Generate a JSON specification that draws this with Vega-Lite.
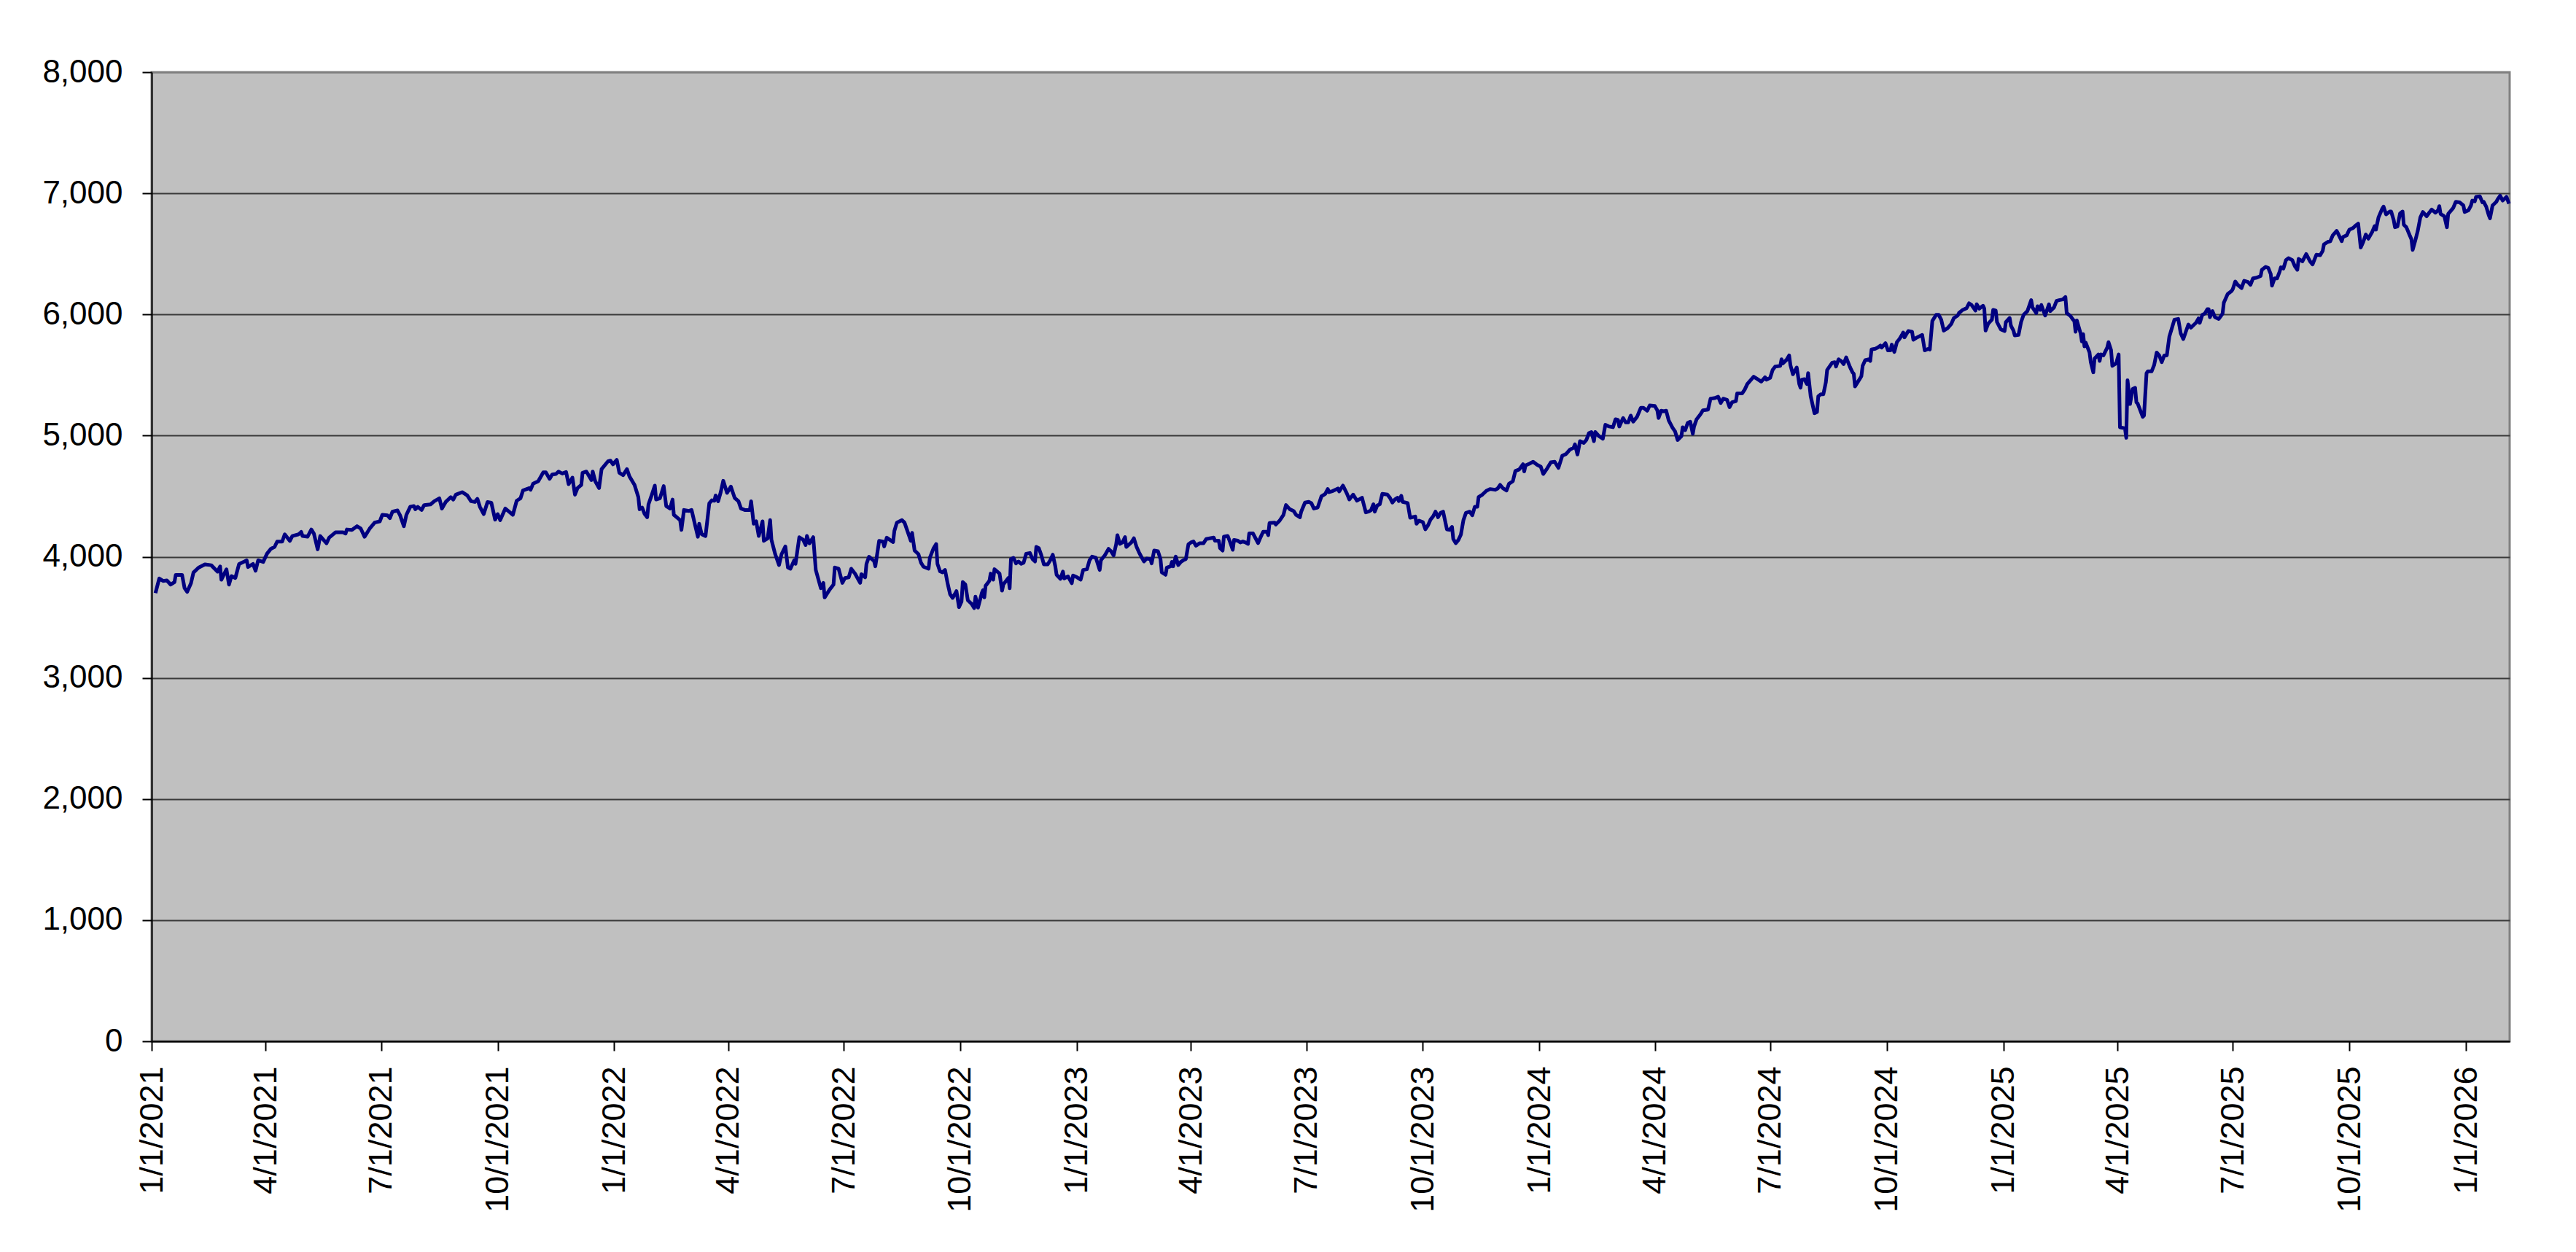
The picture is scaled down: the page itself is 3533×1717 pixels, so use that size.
{
  "$schema": "https://vega.github.io/schema/vega-lite/v6.json",
  "autosize": {"type": "none"},
  "width": 3234,
  "height": 1329,
  "padding": {"left": 208, "top": 99, "right": 91, "bottom": 289},
  "background": "white",
  "data": {
    "values": [
      {"date": "2021-01-04", "value": 3700}, {"date": "2021-01-07", "value": 3820}, {"date": "2021-01-10", "value": 3800},
      {"date": "2021-01-13", "value": 3804}, {"date": "2021-01-16", "value": 3770}, {"date": "2021-01-19", "value": 3790},
      {"date": "2021-01-20", "value": 3850}, {"date": "2021-01-25", "value": 3850}, {"date": "2021-01-27", "value": 3740},
      {"date": "2021-01-29", "value": 3710}, {"date": "2021-02-01", "value": 3780}, {"date": "2021-02-03", "value": 3870},
      {"date": "2021-02-07", "value": 3910}, {"date": "2021-02-12", "value": 3937}, {"date": "2021-02-17", "value": 3930},
      {"date": "2021-02-22", "value": 3877}, {"date": "2021-02-24", "value": 3920}, {"date": "2021-02-25", "value": 3810},
      {"date": "2021-03-01", "value": 3896}, {"date": "2021-03-03", "value": 3770}, {"date": "2021-03-05", "value": 3840},
      {"date": "2021-03-08", "value": 3824}, {"date": "2021-03-11", "value": 3940}, {"date": "2021-03-17", "value": 3970},
      {"date": "2021-03-18", "value": 3915}, {"date": "2021-03-22", "value": 3940}, {"date": "2021-03-24", "value": 3884},
      {"date": "2021-03-26", "value": 3970}, {"date": "2021-03-30", "value": 3957}, {"date": "2021-04-02", "value": 4025},
      {"date": "2021-04-05", "value": 4065}, {"date": "2021-04-08", "value": 4081}, {"date": "2021-04-10", "value": 4125},
      {"date": "2021-04-14", "value": 4125}, {"date": "2021-04-16", "value": 4185}, {"date": "2021-04-20", "value": 4131},
      {"date": "2021-04-22", "value": 4171}, {"date": "2021-04-27", "value": 4185}, {"date": "2021-04-29", "value": 4205},
      {"date": "2021-04-30", "value": 4171}, {"date": "2021-05-04", "value": 4165}, {"date": "2021-05-07", "value": 4225},
      {"date": "2021-05-09", "value": 4191}, {"date": "2021-05-12", "value": 4061}, {"date": "2021-05-14", "value": 4171},
      {"date": "2021-05-19", "value": 4111}, {"date": "2021-05-21", "value": 4157}, {"date": "2021-05-26", "value": 4201},
      {"date": "2021-06-01", "value": 4201}, {"date": "2021-06-03", "value": 4191}, {"date": "2021-06-04", "value": 4225},
      {"date": "2021-06-08", "value": 4221}, {"date": "2021-06-12", "value": 4252}, {"date": "2021-06-15", "value": 4232},
      {"date": "2021-06-18", "value": 4165}, {"date": "2021-06-22", "value": 4232}, {"date": "2021-06-26", "value": 4282},
      {"date": "2021-06-30", "value": 4292}, {"date": "2021-07-02", "value": 4346}, {"date": "2021-07-06", "value": 4342},
      {"date": "2021-07-08", "value": 4318}, {"date": "2021-07-10", "value": 4372}, {"date": "2021-07-14", "value": 4382},
      {"date": "2021-07-16", "value": 4342}, {"date": "2021-07-19", "value": 4252}, {"date": "2021-07-21", "value": 4346},
      {"date": "2021-07-24", "value": 4412}, {"date": "2021-07-27", "value": 4418}, {"date": "2021-07-28", "value": 4392},
      {"date": "2021-07-30", "value": 4412}, {"date": "2021-08-02", "value": 4386}, {"date": "2021-08-04", "value": 4426},
      {"date": "2021-08-09", "value": 4432}, {"date": "2021-08-12", "value": 4458}, {"date": "2021-08-16", "value": 4482},
      {"date": "2021-08-18", "value": 4398}, {"date": "2021-08-21", "value": 4452}, {"date": "2021-08-25", "value": 4492},
      {"date": "2021-08-27", "value": 4472}, {"date": "2021-08-29", "value": 4512}, {"date": "2021-09-03", "value": 4533},
      {"date": "2021-09-07", "value": 4506}, {"date": "2021-09-10", "value": 4458}, {"date": "2021-09-13", "value": 4452},
      {"date": "2021-09-15", "value": 4478}, {"date": "2021-09-17", "value": 4412}, {"date": "2021-09-20", "value": 4352},
      {"date": "2021-09-23", "value": 4452}, {"date": "2021-09-26", "value": 4446}, {"date": "2021-09-29", "value": 4306},
      {"date": "2021-10-01", "value": 4352}, {"date": "2021-10-03", "value": 4302}, {"date": "2021-10-07", "value": 4398},
      {"date": "2021-10-13", "value": 4346}, {"date": "2021-10-16", "value": 4462}, {"date": "2021-10-19", "value": 4482},
      {"date": "2021-10-21", "value": 4547}, {"date": "2021-10-26", "value": 4567}, {"date": "2021-10-27", "value": 4553},
      {"date": "2021-10-29", "value": 4603}, {"date": "2021-11-02", "value": 4623}, {"date": "2021-11-06", "value": 4697},
      {"date": "2021-11-08", "value": 4697}, {"date": "2021-11-11", "value": 4643}, {"date": "2021-11-13", "value": 4679},
      {"date": "2021-11-16", "value": 4683}, {"date": "2021-11-18", "value": 4703}, {"date": "2021-11-21", "value": 4687},
      {"date": "2021-11-24", "value": 4699}, {"date": "2021-11-26", "value": 4599}, {"date": "2021-11-29", "value": 4653},
      {"date": "2021-12-01", "value": 4512}, {"date": "2021-12-03", "value": 4567}, {"date": "2021-12-06", "value": 4593},
      {"date": "2021-12-07", "value": 4693}, {"date": "2021-12-10", "value": 4703}, {"date": "2021-12-14", "value": 4633},
      {"date": "2021-12-15", "value": 4703}, {"date": "2021-12-17", "value": 4623}, {"date": "2021-12-20", "value": 4567},
      {"date": "2021-12-22", "value": 4723}, {"date": "2021-12-27", "value": 4787}, {"date": "2021-12-29", "value": 4793},
      {"date": "2021-12-31", "value": 4763}, {"date": "2022-01-03", "value": 4799}, {"date": "2022-01-05", "value": 4693},
      {"date": "2022-01-08", "value": 4673}, {"date": "2022-01-11", "value": 4723}, {"date": "2022-01-13", "value": 4663},
      {"date": "2022-01-17", "value": 4593}, {"date": "2022-01-20", "value": 4492}, {"date": "2022-01-21", "value": 4392},
      {"date": "2022-01-23", "value": 4406}, {"date": "2022-01-25", "value": 4352}, {"date": "2022-01-27", "value": 4326},
      {"date": "2022-01-28", "value": 4432}, {"date": "2022-01-31", "value": 4523}, {"date": "2022-02-02", "value": 4587},
      {"date": "2022-02-03", "value": 4472}, {"date": "2022-02-06", "value": 4482}, {"date": "2022-02-09", "value": 4583},
      {"date": "2022-02-11", "value": 4418}, {"date": "2022-02-14", "value": 4398}, {"date": "2022-02-16", "value": 4472},
      {"date": "2022-02-17", "value": 4346}, {"date": "2022-02-22", "value": 4302}, {"date": "2022-02-23", "value": 4222},
      {"date": "2022-02-25", "value": 4386}, {"date": "2022-03-01", "value": 4378}, {"date": "2022-03-03", "value": 4386},
      {"date": "2022-03-06", "value": 4252}, {"date": "2022-03-08", "value": 4165}, {"date": "2022-03-09", "value": 4272},
      {"date": "2022-03-11", "value": 4185}, {"date": "2022-03-14", "value": 4171}, {"date": "2022-03-17", "value": 4442},
      {"date": "2022-03-19", "value": 4466}, {"date": "2022-03-21", "value": 4462}, {"date": "2022-03-22", "value": 4506},
      {"date": "2022-03-24", "value": 4458}, {"date": "2022-03-26", "value": 4533}, {"date": "2022-03-28", "value": 4627},
      {"date": "2022-03-31", "value": 4527}, {"date": "2022-04-03", "value": 4579}, {"date": "2022-04-06", "value": 4486},
      {"date": "2022-04-09", "value": 4458}, {"date": "2022-04-11", "value": 4398}, {"date": "2022-04-14", "value": 4386},
      {"date": "2022-04-18", "value": 4386}, {"date": "2022-04-19", "value": 4458}, {"date": "2022-04-21", "value": 4272},
      {"date": "2022-04-23", "value": 4292}, {"date": "2022-04-25", "value": 4171}, {"date": "2022-04-28", "value": 4292},
      {"date": "2022-04-29", "value": 4131}, {"date": "2022-05-02", "value": 4151}, {"date": "2022-05-04", "value": 4302},
      {"date": "2022-05-05", "value": 4141}, {"date": "2022-05-08", "value": 4021}, {"date": "2022-05-11", "value": 3931},
      {"date": "2022-05-13", "value": 4021}, {"date": "2022-05-16", "value": 4085}, {"date": "2022-05-18", "value": 3911},
      {"date": "2022-05-20", "value": 3901}, {"date": "2022-05-23", "value": 3971}, {"date": "2022-05-24", "value": 3941},
      {"date": "2022-05-27", "value": 4161}, {"date": "2022-05-30", "value": 4141}, {"date": "2022-06-01", "value": 4097},
      {"date": "2022-06-02", "value": 4171}, {"date": "2022-06-04", "value": 4111}, {"date": "2022-06-07", "value": 4161},
      {"date": "2022-06-09", "value": 3891}, {"date": "2022-06-13", "value": 3740}, {"date": "2022-06-15", "value": 3784},
      {"date": "2022-06-16", "value": 3664}, {"date": "2022-06-20", "value": 3730}, {"date": "2022-06-23", "value": 3770},
      {"date": "2022-06-24", "value": 3911}, {"date": "2022-06-27", "value": 3901}, {"date": "2022-06-30", "value": 3784},
      {"date": "2022-07-02", "value": 3824}, {"date": "2022-07-05", "value": 3830}, {"date": "2022-07-07", "value": 3901},
      {"date": "2022-07-10", "value": 3860}, {"date": "2022-07-14", "value": 3784}, {"date": "2022-07-15", "value": 3856},
      {"date": "2022-07-18", "value": 3830}, {"date": "2022-07-19", "value": 3941}, {"date": "2022-07-21", "value": 4000},
      {"date": "2022-07-25", "value": 3965}, {"date": "2022-07-26", "value": 3921}, {"date": "2022-07-29", "value": 4131},
      {"date": "2022-08-01", "value": 4125}, {"date": "2022-08-02", "value": 4085}, {"date": "2022-08-04", "value": 4157},
      {"date": "2022-08-09", "value": 4121}, {"date": "2022-08-10", "value": 4212}, {"date": "2022-08-12", "value": 4282},
      {"date": "2022-08-16", "value": 4302}, {"date": "2022-08-18", "value": 4282}, {"date": "2022-08-20", "value": 4222},
      {"date": "2022-08-23", "value": 4131}, {"date": "2022-08-24", "value": 4197}, {"date": "2022-08-26", "value": 4051},
      {"date": "2022-08-29", "value": 4021}, {"date": "2022-08-31", "value": 3951}, {"date": "2022-09-02", "value": 3917},
      {"date": "2022-09-06", "value": 3901}, {"date": "2022-09-07", "value": 3991}, {"date": "2022-09-10", "value": 4071},
      {"date": "2022-09-12", "value": 4105}, {"date": "2022-09-13", "value": 3941}, {"date": "2022-09-15", "value": 3880},
      {"date": "2022-09-17", "value": 3871}, {"date": "2022-09-19", "value": 3891}, {"date": "2022-09-21", "value": 3781},
      {"date": "2022-09-23", "value": 3690}, {"date": "2022-09-25", "value": 3660}, {"date": "2022-09-28", "value": 3716},
      {"date": "2022-09-30", "value": 3584}, {"date": "2022-10-02", "value": 3630}, {"date": "2022-10-03", "value": 3791},
      {"date": "2022-10-05", "value": 3771}, {"date": "2022-10-07", "value": 3640}, {"date": "2022-10-10", "value": 3610},
      {"date": "2022-10-12", "value": 3576}, {"date": "2022-10-13", "value": 3670}, {"date": "2022-10-15", "value": 3580},
      {"date": "2022-10-18", "value": 3700}, {"date": "2022-10-19", "value": 3724}, {"date": "2022-10-20", "value": 3664},
      {"date": "2022-10-21", "value": 3760}, {"date": "2022-10-24", "value": 3801}, {"date": "2022-10-25", "value": 3861},
      {"date": "2022-10-27", "value": 3811}, {"date": "2022-10-28", "value": 3897}, {"date": "2022-11-01", "value": 3861},
      {"date": "2022-11-03", "value": 3720}, {"date": "2022-11-04", "value": 3771}, {"date": "2022-11-08", "value": 3825},
      {"date": "2022-11-09", "value": 3740}, {"date": "2022-11-10", "value": 3981}, {"date": "2022-11-12", "value": 3991},
      {"date": "2022-11-14", "value": 3945}, {"date": "2022-11-16", "value": 3961}, {"date": "2022-11-18", "value": 3941},
      {"date": "2022-11-20", "value": 3951}, {"date": "2022-11-22", "value": 4025}, {"date": "2022-11-25", "value": 4031},
      {"date": "2022-11-27", "value": 3981}, {"date": "2022-11-29", "value": 3961}, {"date": "2022-11-30", "value": 4081},
      {"date": "2022-12-02", "value": 4071}, {"date": "2022-12-04", "value": 4011}, {"date": "2022-12-06", "value": 3937},
      {"date": "2022-12-09", "value": 3937}, {"date": "2022-12-11", "value": 3971}, {"date": "2022-12-13", "value": 4017},
      {"date": "2022-12-15", "value": 3921}, {"date": "2022-12-16", "value": 3851}, {"date": "2022-12-19", "value": 3817},
      {"date": "2022-12-21", "value": 3877}, {"date": "2022-12-22", "value": 3821}, {"date": "2022-12-25", "value": 3837},
      {"date": "2022-12-28", "value": 3781}, {"date": "2022-12-29", "value": 3845}, {"date": "2023-01-01", "value": 3831},
      {"date": "2023-01-04", "value": 3811}, {"date": "2023-01-06", "value": 3891}, {"date": "2023-01-09", "value": 3897},
      {"date": "2023-01-11", "value": 3971}, {"date": "2023-01-13", "value": 4001}, {"date": "2023-01-16", "value": 3991},
      {"date": "2023-01-19", "value": 3891}, {"date": "2023-01-20", "value": 3971}, {"date": "2023-01-23", "value": 4011},
      {"date": "2023-01-26", "value": 4065}, {"date": "2023-01-28", "value": 4045}, {"date": "2023-01-30", "value": 4011},
      {"date": "2023-02-01", "value": 4102}, {"date": "2023-02-02", "value": 4178}, {"date": "2023-02-04", "value": 4106},
      {"date": "2023-02-06", "value": 4118}, {"date": "2023-02-08", "value": 4162}, {"date": "2023-02-09", "value": 4081},
      {"date": "2023-02-13", "value": 4118}, {"date": "2023-02-15", "value": 4152}, {"date": "2023-02-17", "value": 4085},
      {"date": "2023-02-19", "value": 4037}, {"date": "2023-02-21", "value": 3997}, {"date": "2023-02-23", "value": 3961},
      {"date": "2023-02-25", "value": 3985}, {"date": "2023-02-28", "value": 3981}, {"date": "2023-03-01", "value": 3945},
      {"date": "2023-03-03", "value": 4051}, {"date": "2023-03-06", "value": 4045}, {"date": "2023-03-08", "value": 3981},
      {"date": "2023-03-09", "value": 3871}, {"date": "2023-03-12", "value": 3851}, {"date": "2023-03-13", "value": 3911},
      {"date": "2023-03-16", "value": 3921}, {"date": "2023-03-17", "value": 3957}, {"date": "2023-03-18", "value": 3921},
      {"date": "2023-03-20", "value": 4001}, {"date": "2023-03-22", "value": 3931}, {"date": "2023-03-24", "value": 3957},
      {"date": "2023-03-26", "value": 3971}, {"date": "2023-03-28", "value": 3981}, {"date": "2023-03-30", "value": 4102},
      {"date": "2023-04-01", "value": 4118}, {"date": "2023-04-03", "value": 4126}, {"date": "2023-04-05", "value": 4091},
      {"date": "2023-04-08", "value": 4112}, {"date": "2023-04-11", "value": 4112}, {"date": "2023-04-13", "value": 4146},
      {"date": "2023-04-16", "value": 4152}, {"date": "2023-04-19", "value": 4158}, {"date": "2023-04-20", "value": 4132},
      {"date": "2023-04-23", "value": 4132}, {"date": "2023-04-24", "value": 4071}, {"date": "2023-04-26", "value": 4051},
      {"date": "2023-04-27", "value": 4166}, {"date": "2023-04-30", "value": 4172}, {"date": "2023-05-02", "value": 4118},
      {"date": "2023-05-04", "value": 4057}, {"date": "2023-05-05", "value": 4138}, {"date": "2023-05-08", "value": 4132},
      {"date": "2023-05-10", "value": 4118}, {"date": "2023-05-12", "value": 4126}, {"date": "2023-05-14", "value": 4118},
      {"date": "2023-05-16", "value": 4106}, {"date": "2023-05-17", "value": 4192}, {"date": "2023-05-20", "value": 4192},
      {"date": "2023-05-22", "value": 4152}, {"date": "2023-05-24", "value": 4112}, {"date": "2023-05-26", "value": 4162},
      {"date": "2023-05-28", "value": 4206}, {"date": "2023-05-31", "value": 4206}, {"date": "2023-06-01", "value": 4178},
      {"date": "2023-06-02", "value": 4278}, {"date": "2023-06-06", "value": 4282}, {"date": "2023-06-07", "value": 4266},
      {"date": "2023-06-10", "value": 4298}, {"date": "2023-06-13", "value": 4346}, {"date": "2023-06-15", "value": 4427},
      {"date": "2023-06-18", "value": 4392}, {"date": "2023-06-21", "value": 4378}, {"date": "2023-06-23", "value": 4346},
      {"date": "2023-06-26", "value": 4326}, {"date": "2023-06-27", "value": 4372}, {"date": "2023-06-30", "value": 4447},
      {"date": "2023-07-03", "value": 4453}, {"date": "2023-07-05", "value": 4443}, {"date": "2023-07-07", "value": 4398},
      {"date": "2023-07-10", "value": 4406}, {"date": "2023-07-13", "value": 4499}, {"date": "2023-07-16", "value": 4519},
      {"date": "2023-07-18", "value": 4559}, {"date": "2023-07-19", "value": 4533}, {"date": "2023-07-22", "value": 4543},
      {"date": "2023-07-26", "value": 4563}, {"date": "2023-07-27", "value": 4539}, {"date": "2023-07-30", "value": 4587},
      {"date": "2023-08-02", "value": 4523}, {"date": "2023-08-04", "value": 4473}, {"date": "2023-08-07", "value": 4513},
      {"date": "2023-08-10", "value": 4463}, {"date": "2023-08-14", "value": 4487}, {"date": "2023-08-17", "value": 4366},
      {"date": "2023-08-19", "value": 4372}, {"date": "2023-08-21", "value": 4383}, {"date": "2023-08-23", "value": 4433},
      {"date": "2023-08-24", "value": 4372}, {"date": "2023-08-26", "value": 4423}, {"date": "2023-08-28", "value": 4433},
      {"date": "2023-08-30", "value": 4519}, {"date": "2023-09-03", "value": 4513}, {"date": "2023-09-05", "value": 4487},
      {"date": "2023-09-07", "value": 4447}, {"date": "2023-09-09", "value": 4473}, {"date": "2023-09-11", "value": 4487},
      {"date": "2023-09-12", "value": 4459}, {"date": "2023-09-14", "value": 4503}, {"date": "2023-09-15", "value": 4453},
      {"date": "2023-09-19", "value": 4443}, {"date": "2023-09-21", "value": 4322}, {"date": "2023-09-25", "value": 4332},
      {"date": "2023-09-26", "value": 4272}, {"date": "2023-09-28", "value": 4298}, {"date": "2023-10-01", "value": 4286},
      {"date": "2023-10-03", "value": 4226}, {"date": "2023-10-05", "value": 4258}, {"date": "2023-10-07", "value": 4306},
      {"date": "2023-10-09", "value": 4332}, {"date": "2023-10-11", "value": 4372}, {"date": "2023-10-13", "value": 4326},
      {"date": "2023-10-15", "value": 4362}, {"date": "2023-10-17", "value": 4372}, {"date": "2023-10-20", "value": 4226},
      {"date": "2023-10-22", "value": 4222}, {"date": "2023-10-24", "value": 4246}, {"date": "2023-10-25", "value": 4146},
      {"date": "2023-10-27", "value": 4112}, {"date": "2023-10-29", "value": 4138}, {"date": "2023-10-31", "value": 4182},
      {"date": "2023-11-02", "value": 4302}, {"date": "2023-11-04", "value": 4362}, {"date": "2023-11-07", "value": 4372},
      {"date": "2023-11-09", "value": 4342}, {"date": "2023-11-11", "value": 4413}, {"date": "2023-11-13", "value": 4413},
      {"date": "2023-11-14", "value": 4493}, {"date": "2023-11-17", "value": 4513}, {"date": "2023-11-20", "value": 4543},
      {"date": "2023-11-23", "value": 4559}, {"date": "2023-11-27", "value": 4553}, {"date": "2023-11-29", "value": 4563},
      {"date": "2023-12-01", "value": 4593}, {"date": "2023-12-03", "value": 4567}, {"date": "2023-12-06", "value": 4547},
      {"date": "2023-12-08", "value": 4603}, {"date": "2023-12-11", "value": 4623}, {"date": "2023-12-13", "value": 4708},
      {"date": "2023-12-16", "value": 4720}, {"date": "2023-12-19", "value": 4764}, {"date": "2023-12-20", "value": 4704},
      {"date": "2023-12-21", "value": 4754}, {"date": "2023-12-24", "value": 4768}, {"date": "2023-12-27", "value": 4784},
      {"date": "2023-12-30", "value": 4760}, {"date": "2024-01-02", "value": 4744}, {"date": "2024-01-04", "value": 4683},
      {"date": "2024-01-07", "value": 4728}, {"date": "2024-01-10", "value": 4780}, {"date": "2024-01-13", "value": 4784},
      {"date": "2024-01-16", "value": 4734}, {"date": "2024-01-19", "value": 4834}, {"date": "2024-01-22", "value": 4848},
      {"date": "2024-01-25", "value": 4884}, {"date": "2024-01-28", "value": 4900}, {"date": "2024-01-29", "value": 4928},
      {"date": "2024-01-31", "value": 4844}, {"date": "2024-02-02", "value": 4954}, {"date": "2024-02-05", "value": 4940},
      {"date": "2024-02-07", "value": 4964}, {"date": "2024-02-09", "value": 5020}, {"date": "2024-02-11", "value": 5029},
      {"date": "2024-02-13", "value": 4954}, {"date": "2024-02-14", "value": 5029}, {"date": "2024-02-17", "value": 4995},
      {"date": "2024-02-20", "value": 4974}, {"date": "2024-02-22", "value": 5089}, {"date": "2024-02-25", "value": 5075},
      {"date": "2024-02-28", "value": 5069}, {"date": "2024-03-01", "value": 5135}, {"date": "2024-03-03", "value": 5129},
      {"date": "2024-03-04", "value": 5075}, {"date": "2024-03-07", "value": 5145}, {"date": "2024-03-09", "value": 5109},
      {"date": "2024-03-11", "value": 5109}, {"date": "2024-03-13", "value": 5165}, {"date": "2024-03-15", "value": 5115},
      {"date": "2024-03-18", "value": 5155}, {"date": "2024-03-21", "value": 5229}, {"date": "2024-03-23", "value": 5229},
      {"date": "2024-03-26", "value": 5205}, {"date": "2024-03-28", "value": 5249}, {"date": "2024-04-01", "value": 5245},
      {"date": "2024-04-03", "value": 5209}, {"date": "2024-04-04", "value": 5145}, {"date": "2024-04-06", "value": 5205},
      {"date": "2024-04-08", "value": 5201}, {"date": "2024-04-10", "value": 5205}, {"date": "2024-04-12", "value": 5125},
      {"date": "2024-04-15", "value": 5065}, {"date": "2024-04-17", "value": 5035}, {"date": "2024-04-19", "value": 4964},
      {"date": "2024-04-22", "value": 4995}, {"date": "2024-04-23", "value": 5069}, {"date": "2024-04-25", "value": 5045},
      {"date": "2024-04-27", "value": 5105}, {"date": "2024-04-29", "value": 5115}, {"date": "2024-05-01", "value": 5015},
      {"date": "2024-05-02", "value": 5075}, {"date": "2024-05-04", "value": 5135}, {"date": "2024-05-07", "value": 5175},
      {"date": "2024-05-09", "value": 5209}, {"date": "2024-05-13", "value": 5215}, {"date": "2024-05-15", "value": 5305},
      {"date": "2024-05-18", "value": 5309}, {"date": "2024-05-21", "value": 5321}, {"date": "2024-05-23", "value": 5269},
      {"date": "2024-05-25", "value": 5305}, {"date": "2024-05-28", "value": 5295}, {"date": "2024-05-30", "value": 5235},
      {"date": "2024-06-01", "value": 5275}, {"date": "2024-06-04", "value": 5285}, {"date": "2024-06-05", "value": 5349},
      {"date": "2024-06-09", "value": 5349}, {"date": "2024-06-11", "value": 5381}, {"date": "2024-06-13", "value": 5426},
      {"date": "2024-06-15", "value": 5450}, {"date": "2024-06-18", "value": 5486}, {"date": "2024-06-21", "value": 5466},
      {"date": "2024-06-24", "value": 5446}, {"date": "2024-06-27", "value": 5482}, {"date": "2024-06-28", "value": 5462},
      {"date": "2024-07-01", "value": 5476}, {"date": "2024-07-03", "value": 5542}, {"date": "2024-07-05", "value": 5570},
      {"date": "2024-07-09", "value": 5576}, {"date": "2024-07-10", "value": 5630}, {"date": "2024-07-11", "value": 5596},
      {"date": "2024-07-14", "value": 5626}, {"date": "2024-07-16", "value": 5662}, {"date": "2024-07-17", "value": 5582},
      {"date": "2024-07-19", "value": 5506}, {"date": "2024-07-22", "value": 5562}, {"date": "2024-07-24", "value": 5426},
      {"date": "2024-07-25", "value": 5396}, {"date": "2024-07-26", "value": 5462}, {"date": "2024-07-28", "value": 5466},
      {"date": "2024-07-30", "value": 5426}, {"date": "2024-07-31", "value": 5516}, {"date": "2024-08-02", "value": 5325},
      {"date": "2024-08-05", "value": 5185}, {"date": "2024-08-07", "value": 5195}, {"date": "2024-08-08", "value": 5325},
      {"date": "2024-08-10", "value": 5341}, {"date": "2024-08-12", "value": 5341}, {"date": "2024-08-14", "value": 5442},
      {"date": "2024-08-15", "value": 5542}, {"date": "2024-08-19", "value": 5602}, {"date": "2024-08-21", "value": 5606},
      {"date": "2024-08-22", "value": 5570}, {"date": "2024-08-24", "value": 5630}, {"date": "2024-08-26", "value": 5616},
      {"date": "2024-08-28", "value": 5590}, {"date": "2024-08-30", "value": 5646}, {"date": "2024-09-02", "value": 5566},
      {"date": "2024-09-04", "value": 5522}, {"date": "2024-09-05", "value": 5510}, {"date": "2024-09-06", "value": 5406},
      {"date": "2024-09-09", "value": 5456}, {"date": "2024-09-11", "value": 5490}, {"date": "2024-09-12", "value": 5576},
      {"date": "2024-09-14", "value": 5622}, {"date": "2024-09-17", "value": 5630}, {"date": "2024-09-18", "value": 5616},
      {"date": "2024-09-19", "value": 5711}, {"date": "2024-09-22", "value": 5717}, {"date": "2024-09-24", "value": 5727},
      {"date": "2024-09-26", "value": 5743}, {"date": "2024-09-27", "value": 5727}, {"date": "2024-09-30", "value": 5763},
      {"date": "2024-10-02", "value": 5703}, {"date": "2024-10-04", "value": 5703}, {"date": "2024-10-05", "value": 5751},
      {"date": "2024-10-07", "value": 5690}, {"date": "2024-10-09", "value": 5771}, {"date": "2024-10-11", "value": 5797},
      {"date": "2024-10-13", "value": 5831}, {"date": "2024-10-14", "value": 5851}, {"date": "2024-10-15", "value": 5811},
      {"date": "2024-10-18", "value": 5863}, {"date": "2024-10-21", "value": 5857}, {"date": "2024-10-22", "value": 5791},
      {"date": "2024-10-25", "value": 5811}, {"date": "2024-10-29", "value": 5831}, {"date": "2024-10-31", "value": 5703},
      {"date": "2024-11-03", "value": 5717}, {"date": "2024-11-04", "value": 5711}, {"date": "2024-11-06", "value": 5947},
      {"date": "2024-11-09", "value": 5997}, {"date": "2024-11-11", "value": 5997}, {"date": "2024-11-13", "value": 5957},
      {"date": "2024-11-15", "value": 5867}, {"date": "2024-11-18", "value": 5887}, {"date": "2024-11-21", "value": 5923},
      {"date": "2024-11-23", "value": 5971}, {"date": "2024-11-26", "value": 5991}, {"date": "2024-11-27", "value": 6012},
      {"date": "2024-11-30", "value": 6038}, {"date": "2024-12-03", "value": 6052}, {"date": "2024-12-05", "value": 6092},
      {"date": "2024-12-07", "value": 6078}, {"date": "2024-12-10", "value": 6032}, {"date": "2024-12-11", "value": 6084},
      {"date": "2024-12-13", "value": 6048}, {"date": "2024-12-16", "value": 6072}, {"date": "2024-12-17", "value": 6048},
      {"date": "2024-12-18", "value": 5867}, {"date": "2024-12-20", "value": 5923}, {"date": "2024-12-23", "value": 5957},
      {"date": "2024-12-24", "value": 6038}, {"date": "2024-12-26", "value": 6032}, {"date": "2024-12-27", "value": 5937},
      {"date": "2024-12-30", "value": 5877}, {"date": "2025-01-02", "value": 5863}, {"date": "2025-01-03", "value": 5937},
      {"date": "2025-01-06", "value": 5971}, {"date": "2025-01-07", "value": 5907}, {"date": "2025-01-09", "value": 5867},
      {"date": "2025-01-10", "value": 5827}, {"date": "2025-01-13", "value": 5831}, {"date": "2025-01-15", "value": 5937},
      {"date": "2025-01-17", "value": 5997}, {"date": "2025-01-20", "value": 6028}, {"date": "2025-01-23", "value": 6118},
      {"date": "2025-01-24", "value": 6058}, {"date": "2025-01-27", "value": 6012}, {"date": "2025-01-28", "value": 6068},
      {"date": "2025-01-30", "value": 6038}, {"date": "2025-01-31", "value": 6078}, {"date": "2025-02-03", "value": 5991},
      {"date": "2025-02-06", "value": 6084}, {"date": "2025-02-07", "value": 6028}, {"date": "2025-02-10", "value": 6058},
      {"date": "2025-02-12", "value": 6112}, {"date": "2025-02-14", "value": 6118}, {"date": "2025-02-17", "value": 6124},
      {"date": "2025-02-19", "value": 6144}, {"date": "2025-02-20", "value": 6012}, {"date": "2025-02-23", "value": 5987},
      {"date": "2025-02-25", "value": 5957}, {"date": "2025-02-26", "value": 5947}, {"date": "2025-02-27", "value": 5857},
      {"date": "2025-02-28", "value": 5951}, {"date": "2025-03-03", "value": 5843}, {"date": "2025-03-04", "value": 5777},
      {"date": "2025-03-05", "value": 5837}, {"date": "2025-03-06", "value": 5737}, {"date": "2025-03-07", "value": 5767},
      {"date": "2025-03-10", "value": 5687}, {"date": "2025-03-11", "value": 5606}, {"date": "2025-03-13", "value": 5522},
      {"date": "2025-03-14", "value": 5636}, {"date": "2025-03-17", "value": 5670}, {"date": "2025-03-18", "value": 5616},
      {"date": "2025-03-19", "value": 5670}, {"date": "2025-03-21", "value": 5662}, {"date": "2025-03-24", "value": 5727},
      {"date": "2025-03-25", "value": 5771}, {"date": "2025-03-27", "value": 5707}, {"date": "2025-03-28", "value": 5576},
      {"date": "2025-03-31", "value": 5596}, {"date": "2025-04-02", "value": 5670}, {"date": "2025-04-03", "value": 5068},
      {"date": "2025-04-07", "value": 5060}, {"date": "2025-04-08", "value": 4982}, {"date": "2025-04-09", "value": 5456},
      {"date": "2025-04-11", "value": 5261}, {"date": "2025-04-13", "value": 5385}, {"date": "2025-04-15", "value": 5395},
      {"date": "2025-04-16", "value": 5275}, {"date": "2025-04-17", "value": 5265}, {"date": "2025-04-21", "value": 5155},
      {"date": "2025-04-22", "value": 5165}, {"date": "2025-04-24", "value": 5516}, {"date": "2025-04-25", "value": 5530},
      {"date": "2025-04-28", "value": 5530}, {"date": "2025-04-30", "value": 5582}, {"date": "2025-05-02", "value": 5686},
      {"date": "2025-05-04", "value": 5662}, {"date": "2025-05-06", "value": 5606}, {"date": "2025-05-08", "value": 5662},
      {"date": "2025-05-10", "value": 5662}, {"date": "2025-05-12", "value": 5817}, {"date": "2025-05-14", "value": 5887},
      {"date": "2025-05-16", "value": 5957}, {"date": "2025-05-19", "value": 5963}, {"date": "2025-05-21", "value": 5843},
      {"date": "2025-05-23", "value": 5797}, {"date": "2025-05-25", "value": 5857}, {"date": "2025-05-27", "value": 5917},
      {"date": "2025-05-29", "value": 5891}, {"date": "2025-05-31", "value": 5911}, {"date": "2025-06-02", "value": 5931},
      {"date": "2025-06-04", "value": 5967}, {"date": "2025-06-05", "value": 5931}, {"date": "2025-06-07", "value": 5997},
      {"date": "2025-06-09", "value": 6007}, {"date": "2025-06-11", "value": 6044}, {"date": "2025-06-12", "value": 6044},
      {"date": "2025-06-13", "value": 5977}, {"date": "2025-06-15", "value": 6028}, {"date": "2025-06-17", "value": 5977},
      {"date": "2025-06-20", "value": 5963}, {"date": "2025-06-23", "value": 6007}, {"date": "2025-06-24", "value": 6098},
      {"date": "2025-06-27", "value": 6168}, {"date": "2025-06-30", "value": 6192}, {"date": "2025-07-01", "value": 6208},
      {"date": "2025-07-03", "value": 6272}, {"date": "2025-07-05", "value": 6244}, {"date": "2025-07-08", "value": 6218},
      {"date": "2025-07-10", "value": 6278}, {"date": "2025-07-13", "value": 6268}, {"date": "2025-07-15", "value": 6244},
      {"date": "2025-07-17", "value": 6298}, {"date": "2025-07-20", "value": 6304}, {"date": "2025-07-23", "value": 6318},
      {"date": "2025-07-24", "value": 6369}, {"date": "2025-07-27", "value": 6393}, {"date": "2025-07-29", "value": 6385},
      {"date": "2025-07-31", "value": 6333}, {"date": "2025-08-01", "value": 6238}, {"date": "2025-08-03", "value": 6298},
      {"date": "2025-08-05", "value": 6298}, {"date": "2025-08-07", "value": 6353}, {"date": "2025-08-08", "value": 6389},
      {"date": "2025-08-10", "value": 6379}, {"date": "2025-08-12", "value": 6449}, {"date": "2025-08-14", "value": 6465},
      {"date": "2025-08-17", "value": 6449}, {"date": "2025-08-19", "value": 6399}, {"date": "2025-08-21", "value": 6369},
      {"date": "2025-08-22", "value": 6459}, {"date": "2025-08-25", "value": 6439}, {"date": "2025-08-28", "value": 6499},
      {"date": "2025-08-31", "value": 6439}, {"date": "2025-09-02", "value": 6413}, {"date": "2025-09-05", "value": 6493},
      {"date": "2025-09-08", "value": 6489}, {"date": "2025-09-10", "value": 6525}, {"date": "2025-09-11", "value": 6579},
      {"date": "2025-09-14", "value": 6599}, {"date": "2025-09-16", "value": 6605}, {"date": "2025-09-18", "value": 6654},
      {"date": "2025-09-21", "value": 6690}, {"date": "2025-09-22", "value": 6670}, {"date": "2025-09-25", "value": 6605},
      {"date": "2025-09-26", "value": 6640}, {"date": "2025-09-29", "value": 6654}, {"date": "2025-10-01", "value": 6700},
      {"date": "2025-10-04", "value": 6714}, {"date": "2025-10-06", "value": 6734}, {"date": "2025-10-08", "value": 6750},
      {"date": "2025-10-10", "value": 6553}, {"date": "2025-10-12", "value": 6599}, {"date": "2025-10-14", "value": 6660},
      {"date": "2025-10-16", "value": 6626}, {"date": "2025-10-19", "value": 6680}, {"date": "2025-10-21", "value": 6730},
      {"date": "2025-10-22", "value": 6700}, {"date": "2025-10-24", "value": 6800}, {"date": "2025-10-27", "value": 6874},
      {"date": "2025-10-28", "value": 6890}, {"date": "2025-10-30", "value": 6826}, {"date": "2025-11-02", "value": 6850},
      {"date": "2025-11-03", "value": 6850}, {"date": "2025-11-05", "value": 6780}, {"date": "2025-11-06", "value": 6720},
      {"date": "2025-11-08", "value": 6726}, {"date": "2025-11-10", "value": 6834}, {"date": "2025-11-12", "value": 6850},
      {"date": "2025-11-13", "value": 6740}, {"date": "2025-11-15", "value": 6720}, {"date": "2025-11-17", "value": 6670},
      {"date": "2025-11-19", "value": 6620}, {"date": "2025-11-20", "value": 6533}, {"date": "2025-11-22", "value": 6609},
      {"date": "2025-11-24", "value": 6690}, {"date": "2025-11-26", "value": 6800}, {"date": "2025-11-28", "value": 6846},
      {"date": "2025-12-01", "value": 6810}, {"date": "2025-12-03", "value": 6840}, {"date": "2025-12-05", "value": 6866},
      {"date": "2025-12-08", "value": 6840}, {"date": "2025-12-10", "value": 6860}, {"date": "2025-12-11", "value": 6894},
      {"date": "2025-12-12", "value": 6830}, {"date": "2025-12-15", "value": 6810}, {"date": "2025-12-17", "value": 6720},
      {"date": "2025-12-18", "value": 6830}, {"date": "2025-12-22", "value": 6880}, {"date": "2025-12-24", "value": 6930},
      {"date": "2025-12-27", "value": 6926}, {"date": "2025-12-30", "value": 6900}, {"date": "2025-12-31", "value": 6846},
      {"date": "2026-01-03", "value": 6860}, {"date": "2026-01-05", "value": 6900}, {"date": "2026-01-06", "value": 6940},
      {"date": "2026-01-08", "value": 6934}, {"date": "2026-01-09", "value": 6971}, {"date": "2026-01-12", "value": 6975},
      {"date": "2026-01-14", "value": 6926}, {"date": "2026-01-15", "value": 6930}, {"date": "2026-01-17", "value": 6890},
      {"date": "2026-01-19", "value": 6820}, {"date": "2026-01-20", "value": 6794}, {"date": "2026-01-22", "value": 6900},
      {"date": "2026-01-25", "value": 6930}, {"date": "2026-01-26", "value": 6950}, {"date": "2026-01-28", "value": 6981},
      {"date": "2026-01-30", "value": 6940}, {"date": "2026-02-02", "value": 6971}, {"date": "2026-02-04", "value": 6914}
    ]
  },
  "mark": {"type": "line", "color": "#000080", "strokeWidth": 5, "strokeJoin": "round"},
  "encoding": {
    "x": {
      "field": "date",
      "type": "temporal",
      "scale": {
        "type": "utc",
        "domain": [
          {"year": 2021, "month": 1, "date": 1, "utc": true},
          {"year": 2026, "month": 2, "date": 4, "hours": 12, "utc": true}
        ]
      },
      "axis": {
        "title": null,
        "grid": false,
        "tickCount": {"interval": "month", "step": 3},
        "format": "%-m/%-d/%Y",
        "labelAngle": 270,
        "labelAlign": "right",
        "labelBaseline": "middle",
        "labelPadding": 21,
        "labelOverlap": false,
        "labelFlush": false,
        "labelBound": false,
        "labelLimit": 0,
        "labelFontSize": 45,
        "tickSize": 13,
        "tickWidth": 2,
        "tickColor": "#000000",
        "domainColor": "#000000",
        "domainWidth": 2
      }
    },
    "y": {
      "field": "value",
      "type": "quantitative",
      "scale": {"domain": [0, 8000], "nice": false},
      "axis": {
        "title": null,
        "values": [0, 1000, 2000, 3000, 4000, 5000, 6000, 7000, 8000],
        "format": ",d",
        "grid": true,
        "gridColor": {"condition": {"test": "datum.value >= 8000", "value": "#808080"}, "value": "#3a3a3a"},
        "gridWidth": 2,
        "labelPadding": 27,
        "labelLimit": 0,
        "tickSize": 13,
        "tickWidth": 2,
        "tickColor": "#000000",
        "domainColor": "#000000",
        "domainWidth": 2
      }
    }
  },
  "config": {
    "view": {"fill": "#C0C0C0", "stroke": "#808080", "strokeWidth": 3},
    "axis": {
      "labelFont": "Liberation Sans",
      "labelFontSize": 44,
      "labelColor": "#000000"
    }
  }
}
